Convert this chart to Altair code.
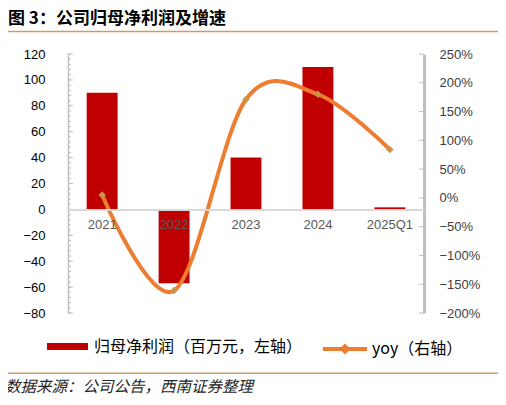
import altair as alt
import pandas as pd

# ---- data ----
years = ["2021", "2022", "2023", "2024", "2025Q1"]
profit = [90, -57, 40, 110, 1.6]          # 百万元, left axis
yoy = [0.05, -1.61, 1.71, 1.80, 0.84]      # right axis

left_ticks = [-80, -60, -40, -20, 0, 20, 40, 60, 80, 100, 120]
left_minor = list(range(-80, 121, 4))
right_ticks = [-2.0, -1.5, -1.0, -0.5, 0.0, 0.5, 1.0, 1.5, 2.0, 2.5]

s1 = "归母净利润（百万元，左轴）"
s2 = "yoy（右轴）"
title_text = "图 3：公司归母净利润及增速"
source_text = "数据来源：公司公告，西南证券整理"

df = pd.DataFrame({"year": years, "profit": profit, "yoy": yoy,
                   "s1": s1, "s2": s2})

W, H = 356, 259
LDOM = [-80, 120]
RDOM = [-2.0, 2.5]
NUM_FONT = "Liberation Sans"
CJK_FONT = "Noto Sans CJK SC"
zero_offset = -H * (0 - LDOM[0]) / (LDOM[1] - LDOM[0])

xenc = alt.X("year:N", sort=years,
             scale=alt.Scale(paddingInner=0.57, paddingOuter=0.26),
             axis=alt.Axis(title=None, orient="bottom", offset=zero_offset,
                           domainColor="#D9D9D9", domainWidth=2, ticks=False,
                           labelAngle=0, labelPadding=9, labelFont=NUM_FONT,
                           labelFontSize=13, labelColor="#595959", zindex=1))

bars = alt.Chart(df).mark_bar(color="#C00000").encode(
    x=xenc,
    y=alt.Y("profit:Q", scale=alt.Scale(domain=LDOM, nice=False, zero=False),
            axis=alt.Axis(title=None, orient="left", values=left_ticks,
                          domainColor="#BFBFBF", domainWidth=1.5, ticks=False,
                          grid=False, labelPadding=23, labelFont=NUM_FONT,
                          labelFontSize=13, labelColor="#000000")),
    color=alt.Color("s1:N", scale=alt.Scale(domain=[s1], range=["#C00000"]),
                    legend=alt.Legend(title=None, orient="none", legendX=-21,
                                      legendY=272, padding=0, labelLimit=0,
                                      symbolType="M-1,-0.17L1,-0.17L1,0.17L-1,0.17Z",
                                      symbolSize=1681, symbolStrokeWidth=0,
                                      labelFont=CJK_FONT, labelFontSize=16,
                                      labelColor="#000000", labelOffset=6)),
)

line = alt.Chart(df).mark_line(strokeWidth=4, interpolate="cardinal").encode(
    x=alt.X("year:N", sort=years),
    y=alt.Y("yoy:Q", scale=alt.Scale(domain=RDOM, nice=False, zero=False),
            axis=alt.Axis(title=None, orient="right", values=right_ticks,
                          format=".0%", domainColor="#BFBFBF", domainWidth=3,
                          ticks=False, grid=False, labelPadding=15,
                          labelFont=NUM_FONT, labelFontSize=13,
                          labelColor="#404040")),
    stroke=alt.Stroke("s2:N", scale=alt.Scale(domain=[s2], range=["#ED7D31"]),
                      legend=alt.Legend(title=None, orient="none", legendX=253,
                                        legendY=271, padding=0, labelLimit=0,
                                        symbolType="M-1,0L1,0M-0.12,0L0,-0.12L0.12,0L0,0.12Z",
                                        symbolSize=1936, symbolStrokeWidth=4,
                                        labelFont=CJK_FONT, labelFontSize=16,
                                        labelColor="#000000", labelOffset=3)),
)

points = alt.Chart(df).mark_point(shape="diamond", filled=True, size=55,
                                  color="#C8964A", opacity=1).encode(
    x=alt.X("year:N", sort=years),
    y=alt.Y("yoy:Q", scale=alt.Scale(domain=RDOM, nice=False, zero=False),
            axis=None),
)

minor = alt.Chart(pd.DataFrame({"v": left_minor})).mark_rule(
    color="#BFBFBF", strokeWidth=1).encode(
    y=alt.Y("v:Q", scale=alt.Scale(domain=LDOM, nice=False, zero=False), axis=None),
    x=alt.value(0), x2=alt.value(3))

major = alt.Chart(pd.DataFrame({"v": left_ticks})).mark_rule(
    color="#BFBFBF", strokeWidth=1).encode(
    y=alt.Y("v:Q", scale=alt.Scale(domain=LDOM, nice=False, zero=False), axis=None),
    x=alt.value(0), x2=alt.value(5))

rticks = alt.Chart(pd.DataFrame({"v": right_ticks})).mark_rule(
    color="#BFBFBF", strokeWidth=1).encode(
    y=alt.Y("v:Q", scale=alt.Scale(domain=RDOM, nice=False, zero=False), axis=None),
    x=alt.value(W - 5), x2=alt.value(W))

one = pd.DataFrame({"t": [title_text], "s": [source_text]})
title = alt.Chart(one).mark_text(align="left", baseline="alphabetic",
                                 font=CJK_FONT, fontSize=17, fontWeight="bold",
                                 color="#000000").encode(
    x=alt.value(-60), y=alt.value(-30.5), text="t:N")
top_rule = alt.Chart(one).mark_rule(color="#C9A063", strokeWidth=1.5).encode(
    x=alt.value(-63), x2=alt.value(433), y=alt.value(-22.5))
bottom_rule = alt.Chart(one).mark_rule(color="#C9A063", strokeWidth=1.5).encode(
    x=alt.value(-63), x2=alt.value(433), y=alt.value(319.3))
source = alt.Chart(one).mark_text(align="left", baseline="alphabetic",
                                  font=CJK_FONT, fontSize=15.5, fontStyle="italic",
                                  color="#262626").encode(
    x=alt.value(-63), y=alt.value(338), text="s:N")

chart = alt.layer(
    bars, line, points, minor, major, rticks,
    title, top_rule, bottom_rule, source
).resolve_scale(y="independent").properties(
    width=W, height=H,
    autosize=alt.AutoSizeParams(type="none"),
    padding={"left": 60, "top": 46, "right": 74, "bottom": 84},
).configure_view(stroke=None)

chart.save("out.html", embed_options={"renderer": "svg", "actions": False})
